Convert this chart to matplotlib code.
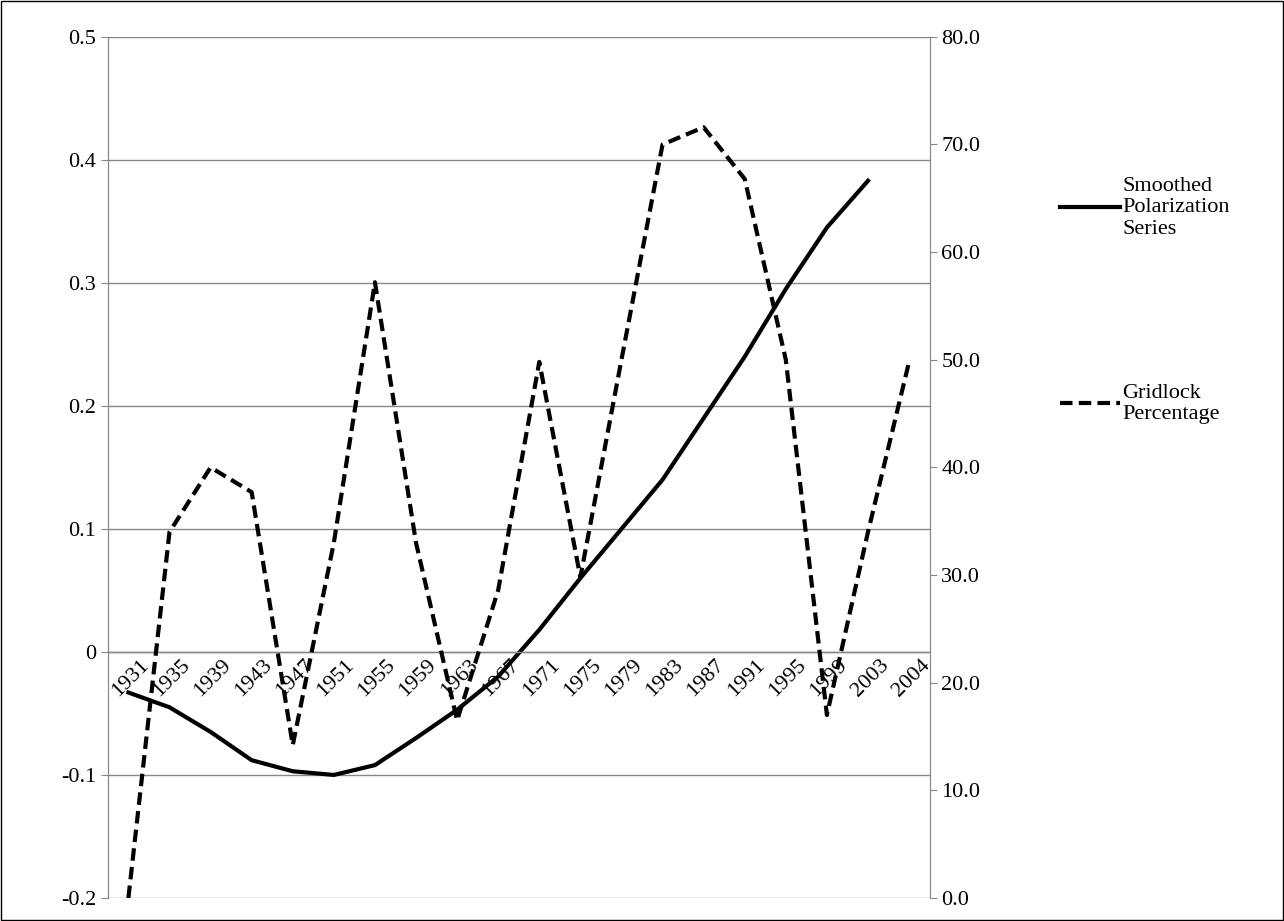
import numpy as np
import matplotlib
matplotlib.use("Agg")
from matplotlib import pyplot as plt

plt.rcParams['font.family'] = ['Liberation Serif', 'DejaVu Serif']

years = ['1931', '1935', '1939', '1943', '1947', '1951', '1955', '1959', '1963', '1967',
         '1971', '1975', '1979', '1983', '1987', '1991', '1995', '1999', '2003', '2004']
polar = [-0.033, -0.045, -0.065, -0.088, -0.097, -0.100, -0.092, -0.070, -0.047, -0.020,
         0.018, 0.060, 0.100, 0.140, 0.190, 0.240, 0.295, 0.345, 0.383, np.nan]
gridlock = [0.0, 34.0, 40.0, 37.7, 14.2, 33.0, 57.2, 33.0, 16.5, 28.6,
            49.8, 29.8, 50.0, 70.0, 71.6, 66.8, 50.0, 17.0, 34.0, 49.8]

x = np.arange(len(years))

fig = plt.figure(figsize=(12.84, 9.21), dpi=100)
ax = fig.add_axes([0.084, 0.025, 0.64, 0.935])
ax2 = ax.twinx()

l1, = ax.plot(x, polar, color='black', lw=3, label='Smoothed\nPolarization\nSeries')
l2, = ax2.plot(x, gridlock, color='black', lw=3, ls=(0, (3, 1.5)), label='Gridlock\nPercentage')

ax.set_ylim(-0.2, 0.5)
ax.set_yticks(np.arange(-0.2, 0.51, 0.1))
ax.set_yticklabels(['-0.2', '-0.1', '0', '0.1', '0.2', '0.3', '0.4', '0.5'])
ax2.set_ylim(0, 80)
ax2.set_yticks(np.arange(0, 81, 10))
ax2.set_yticklabels(['%.1f' % v for v in np.arange(0, 81, 10)])
ax.set_xlim(-0.5, len(years) - 0.5)
ax.grid(axis='y', color='#888888', lw=1)
ax.set_axisbelow(True)

# category labels sit on the zero line
ax.set_xticks([])
for i, y in enumerate(years):
    ax.text(i + 0.05, -0.003, y, rotation=45, ha='center', va='top', fontsize=16,
            transform=ax.transData)
ax.axhline(0, color='#888888', lw=1)

for a in (ax, ax2):
    a.tick_params(axis='y', labelsize=16, length=5, color='#888888')
    for s in ['top', 'bottom']:
        a.spines[s].set_visible(False)
    a.spines['left'].set_color('#888888')
    a.spines['right'].set_color('#888888')

fig.legend([l1, l2], [l1.get_label(), l2.get_label()], loc='upper left',
           bbox_to_anchor=(0.81, 0.83), frameon=False, fontsize=16,
           handlelength=2.7, handletextpad=0.1, labelspacing=6.5)

fig.patches.append(plt.Rectangle((0.001, 0.001), 0.998, 0.998, transform=fig.transFigure,
                                 fill=False, edgecolor='black', lw=1))
fig.savefig('out.png')
